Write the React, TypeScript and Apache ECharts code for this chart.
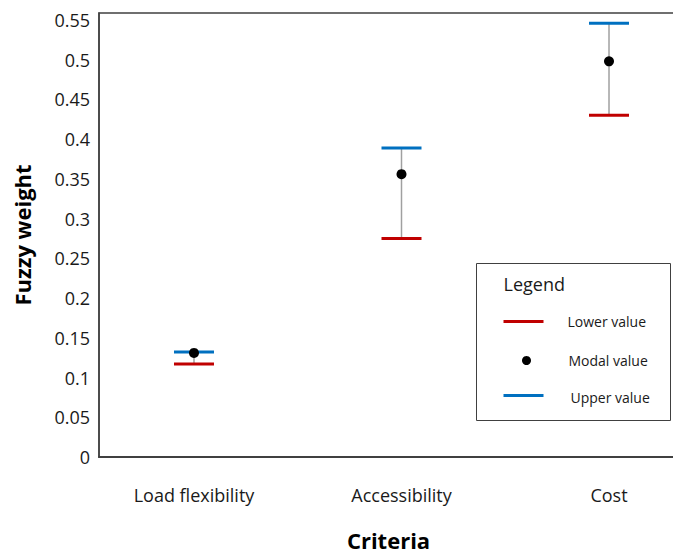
import React, { useEffect, useRef } from "react";
import * as echarts from "echarts";

const categories = ["Load flexibility", "Accessibility", "Cost"];
const lowerValues = [0.117, 0.275, 0.430];
const modalValues = [0.131, 0.356, 0.498];
const upperValues = [0.132, 0.389, 0.546];
const yTicks = [0, 0.05, 0.1, 0.15, 0.2, 0.25, 0.3, 0.35, 0.4, 0.45, 0.5, 0.55];
const legendLabels = ["Lower value", "Modal value", "Upper value"];

const RED = "#c00000";
const BLUE = "#0070c0";
const AXIS = "#404040";
const FONT = "'Open Sans', 'Noto Sans', sans-serif";

export default function App() {
  const ref = useRef<HTMLDivElement>(null);
  useEffect(() => {
    if (!ref.current) return;
    const chart = echarts.init(ref.current, undefined, { renderer: "svg" });
    const positions = categories.map((_, i) => i + 1);
    const whiskerData = categories.map((_, i) => [positions[i], lowerValues[i], upperValues[i]]);
    const modalData = categories.map((_, i) => [positions[i], modalValues[i]]);

    chart.setOption({
      animation: false,
      backgroundColor: "#ffffff",
      textStyle: { fontFamily: FONT },
      grid: {
        left: 99,
        top: 13,
        bottom: 98,
        right: -5,
        outerBoundsMode: "none",
        containLabel: false,
        show: true,
        borderColor: AXIS,
        borderWidth: 1.5,
        backgroundColor: "transparent",
      },
      xAxis: {
        type: "value",
        min: 0.5422,
        max: 3.3325,
        splitLine: { show: false },
        axisTick: { show: false },
        axisLine: { show: true, lineStyle: { color: AXIS, width: 2 } },
        axisLabel: {
          customValues: positions,
          formatter: (v: number) => categories[Math.round(v) - 1] ?? "",
          color: "#1a1a1a",
          fontSize: 18,
          fontFamily: FONT,
          margin: 29,
        },
        name: "Criteria",
        nameLocation: "middle",
        nameGap: 72,
        nameTextStyle: { fontSize: 22, fontWeight: "bold", color: "#000", fontFamily: FONT },
      },
      yAxis: {
        type: "value",
        min: 0,
        max: 0.5588,
        interval: 0.05,
        splitLine: { show: false },
        axisTick: { show: false },
        axisLine: { show: true, lineStyle: { color: AXIS, width: 1.5 } },
        axisLabel: {
          customValues: yTicks,
          formatter: (v: number) => String(parseFloat(v.toFixed(2))),
          color: "#1a1a1a",
          fontSize: 18,
          fontFamily: FONT,
          margin: 9,
        },
        name: "Fuzzy weight",
        nameLocation: "middle",
        nameGap: 66,
        nameTextStyle: { fontSize: 22, fontWeight: "bold", color: "#000", fontFamily: FONT },
      },
      series: [
        {
          name: "Range",
          type: "custom",
          data: whiskerData,
          z: 2,
          renderItem: (params: any, api: any) => {
            const x = api.value(0);
            const lo = api.coord([x, api.value(1)]);
            const hi = api.coord([x, api.value(2)]);
            const hw = 20;
            return {
              type: "group",
              children: [
                {
                  type: "line",
                  shape: { x1: lo[0], y1: lo[1], x2: hi[0], y2: hi[1] },
                  style: { stroke: "#a0a0a0", lineWidth: 1.5 },
                },
                {
                  type: "line",
                  shape: { x1: lo[0] - hw, y1: lo[1], x2: lo[0] + hw, y2: lo[1] },
                  style: { stroke: RED, lineWidth: 3 },
                },
                {
                  type: "line",
                  shape: { x1: hi[0] - hw, y1: hi[1], x2: hi[0] + hw, y2: hi[1] },
                  style: { stroke: BLUE, lineWidth: 3 },
                },
              ],
            };
          },
        },
        {
          name: "Modal value",
          type: "scatter",
          data: modalData,
          symbol: "circle",
          symbolSize: 10,
          z: 3,
          itemStyle: { color: "#000000", opacity: 1 },
        },
      ],
      graphic: [
        {
          type: "group",
          left: 476,
          top: 263,
          children: [
            {
              type: "rect",
              shape: { x: 0, y: 0, width: 194, height: 157 },
              style: { fill: "#ffffff", stroke: AXIS, lineWidth: 1 },
            },
            {
              type: "text",
              x: 27,
              y: 20,
              style: { text: "Legend", font: `18px ${FONT}`, fill: "#1a1a1a", verticalAlign: "middle" },
            },
            {
              type: "line",
              shape: { x1: 27, y1: 58, x2: 67, y2: 58 },
              style: { stroke: RED, lineWidth: 3 },
            },
            {
              type: "text",
              x: 91,
              y: 58,
              style: { text: legendLabels[0], font: `14px ${FONT}`, fill: "#1a1a1a", verticalAlign: "middle" },
            },
            {
              type: "circle",
              shape: { cx: 50, cy: 97, r: 4.5 },
              style: { fill: "#000000" },
            },
            {
              type: "text",
              x: 92,
              y: 97,
              style: { text: legendLabels[1], font: `14px ${FONT}`, fill: "#1a1a1a", verticalAlign: "middle" },
            },
            {
              type: "line",
              shape: { x1: 27, y1: 132, x2: 67, y2: 132 },
              style: { stroke: BLUE, lineWidth: 3 },
            },
            {
              type: "text",
              x: 94,
              y: 134,
              style: { text: legendLabels[2], font: `14px ${FONT}`, fill: "#1a1a1a", verticalAlign: "middle" },
            },
          ],
        },
      ],
    });
    return () => chart.dispose();
  }, []);
  return <div ref={ref} style={{ width: 673, height: 555, position: "absolute", left: 0, top: 0 }} />;
}
